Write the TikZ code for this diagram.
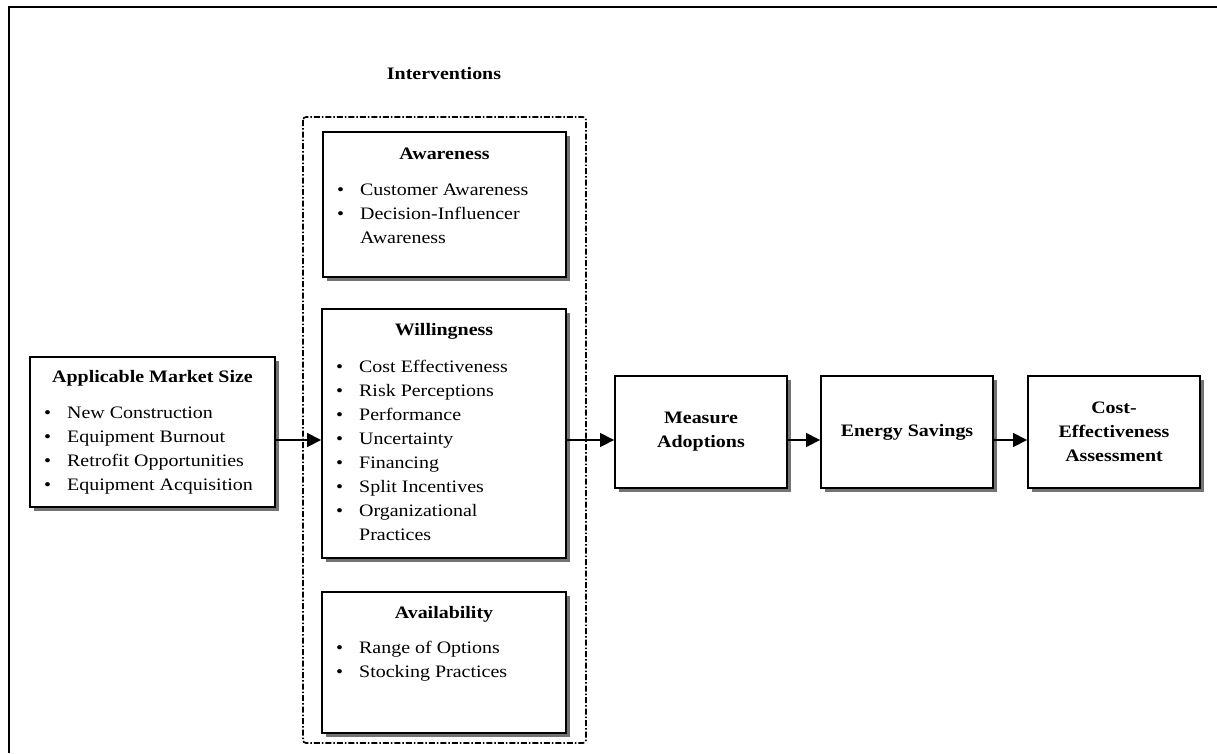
\documentclass[tikz,border=0pt]{standalone}
\usepackage{fontspec}
\setmainfont{Liberation Serif}[FakeStretch=1.14]
\usetikzlibrary{arrows.meta,shadows}

\begin{document}
\begin{tikzpicture}[x=1pt,y=-1pt,
  every node/.style={font=\fontsize{17.5}{24}\selectfont},
  stagebox/.style={draw, line width=1.9pt, fill=white, inner sep=0pt,
    drop shadow={shadow xshift=4pt, shadow yshift=-4pt, fill=black!55, opacity=1}},
  heading/.style={anchor=base, inner sep=0pt, font=\fontsize{17.5}{24}\selectfont\bfseries},
  itemlist/.style={anchor=base west, inner sep=0pt},
  flowarrow/.style={line width=1.6pt, -{Triangle[length=14pt,width=14pt]}},
  groupframe/.style={line width=1.6pt, rounded corners=3pt,
    dash pattern=on 6pt off 2pt on 1.5pt off 2pt}
]
% page and outer frame
\useasboundingbox[fill=white] (0,0) rectangle (1217,753);
\draw[line width=2.2pt] (9,753) -- (9,7) -- (1217,7);

% dashed group around the interventions
\draw[groupframe] (303,117) rectangle (586,743);
\node[heading] (intv) at (444,79) {Interventions};

% boxes
\node[stagebox, minimum width=245pt, minimum height=150pt] (market) at (152.5,432) {};
\node[stagebox, minimum width=243pt, minimum height=145pt] (aware) at (444.5,204.5) {};
\node[stagebox, minimum width=244pt, minimum height=249pt] (will) at (444,433.5) {};
\node[stagebox, minimum width=244pt, minimum height=141pt] (avail) at (444,662.5) {};
\node[stagebox, minimum width=172pt, minimum height=112pt, align=center, font=\fontsize{17.5}{24}\selectfont\bfseries] (adopt) at (701,432) {Measure\\Adoptions};
\node[stagebox, minimum width=172pt, minimum height=112pt, align=center, font=\fontsize{17.5}{24}\selectfont\bfseries] (energy) at (907,432) {Energy Savings};
\node[stagebox, minimum width=172pt, minimum height=112pt, align=center, font=\fontsize{17.5}{24}\selectfont\bfseries] (cost) at (1114,432) {Cost-\\Effectiveness\\Assessment};

% box contents
\node[heading] (marketh) at (152.5,382) {Applicable Market Size};
\node[itemlist] (marketl) at (44,418) {\begin{tabular}[t]{@{}p{23pt}@{}l@{}}
\textbullet & New Construction\\
\textbullet & Equipment Burnout\\
\textbullet & Retrofit Opportunities\\
\textbullet & Equipment Acquisition
\end{tabular}};

\node[heading] (awareh) at (444.5,159) {Awareness};
\node[itemlist] (awarel) at (337,195) {\begin{tabular}[t]{@{}p{23pt}@{}l@{}}
\textbullet & Customer Awareness\\
\textbullet & Decision-Influencer\\
 & Awareness
\end{tabular}};

\node[heading] (willh) at (444,335) {Willingness};
\node[itemlist] (willl) at (336,372) {\begin{tabular}[t]{@{}p{23pt}@{}l@{}}
\textbullet & Cost Effectiveness\\
\textbullet & Risk Perceptions\\
\textbullet & Performance\\
\textbullet & Uncertainty\\
\textbullet & Financing\\
\textbullet & Split Incentives\\
\textbullet & Organizational\\
 & Practices
\end{tabular}};

\node[heading] (availh) at (444,618) {Availability};
\node[itemlist] (availl) at (336,653) {\begin{tabular}[t]{@{}p{23pt}@{}l@{}}
\textbullet & Range of Options\\
\textbullet & Stocking Practices
\end{tabular}};

% flow of the chain
\coordinate (flow) at (0,440);
\draw[flowarrow] (market.east |- flow) -- (will.west |- flow);
\draw[flowarrow] (will.east |- flow) -- (adopt.west |- flow);
\draw[flowarrow] (adopt.east |- flow) -- (energy.west |- flow);
\draw[flowarrow] (energy.east |- flow) -- (cost.west |- flow);
\end{tikzpicture}
\end{document}
